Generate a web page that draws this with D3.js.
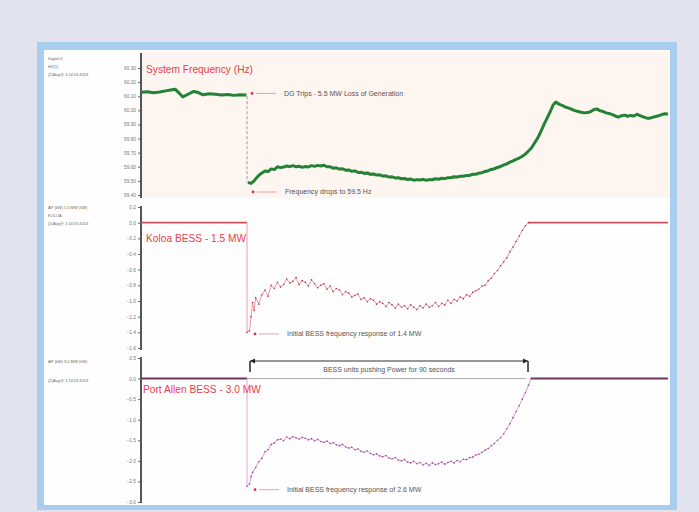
<!DOCTYPE html>
<html>
<head>
<meta charset="utf-8">
<script src="https://cdn.jsdelivr.net/npm/d3@7"></script>
<style>
  html, body { margin: 0; padding: 0; background: #e1e3ee; }
  svg { display: block; font-family: "Liberation Sans", Arial, sans-serif; }
</style>
</head>
<body>
<svg id="chart" width="699" height="512"></svg>
<script>
// ---- Data -------------------------------------------------------------
// Time in seconds from start of capture; generator trip at ~34 s.
const tripTime = 34.2;

// System frequency (Hz) before the trip
const freqPre = [
  [0, 60.128], [2, 60.132], [4, 60.124], [6, 60.130], [8, 60.138], [10, 60.146],
  [11, 60.150], [12.5, 60.118], [13.5, 60.095], [15, 60.112], [17, 60.134],
  [18.5, 60.126], [20, 60.110], [22, 60.118], [24, 60.114], [26, 60.108],
  [28, 60.112], [30, 60.106], [32, 60.110], [34, 60.108]
];
// System frequency (Hz) after the trip
const freqPost = [
  [34.5, 59.490], [35.5, 59.482], [36.5, 59.500], [37.5, 59.528], [38.5, 59.548],
  [40, 59.570], [41, 59.566], [42, 59.585], [43, 59.580], [44, 59.600], [45, 59.594],
  [46, 59.598], [47, 59.606], [48, 59.601], [49, 59.608], [50, 59.600], [51, 59.604],
  [52, 59.596], [53, 59.602], [54, 59.599], [55, 59.608], [56, 59.603], [57, 59.610],
  [58, 59.606], [59, 59.611], [60, 59.600], [61, 59.600], [62, 59.590], [63, 59.593],
  [64, 59.584], [65, 59.586], [66, 59.576], [67, 59.578], [68, 59.568], [69, 59.571],
  [70, 59.560], [71, 59.562], [72, 59.553], [73, 59.556], [74, 59.547], [75, 59.549],
  [76, 59.541], [77, 59.543], [78, 59.534], [79, 59.536], [80, 59.527], [81, 59.529],
  [82, 59.521], [83, 59.523], [84, 59.515], [85, 59.517], [86, 59.510], [87, 59.513],
  [88, 59.505], [89, 59.509], [90, 59.506], [91, 59.511], [92, 59.505], [93, 59.509],
  [94, 59.508], [95, 59.515], [96, 59.512], [97, 59.519], [98, 59.516], [99, 59.523],
  [100, 59.522], [101, 59.529], [102, 59.527], [103, 59.533], [104, 59.533],
  [105, 59.539], [106, 59.539], [107, 59.547], [108, 59.547], [109, 59.555],
  [110, 59.558], [111, 59.567], [112, 59.572], [113, 59.581], [114, 59.586],
  [115, 59.595], [116, 59.602], [117, 59.613], [118, 59.620], [119, 59.633],
  [120, 59.642], [121, 59.653], [122, 59.662], [123, 59.675], [124, 59.690],
  [125, 59.712], [126, 59.735], [127, 59.770], [128, 59.805], [129, 59.850],
  [130, 59.900], [131, 59.945], [132, 59.990], [133, 60.040], [133.8, 60.058],
  [135, 60.042], [136, 60.034], [137, 60.022], [138, 60.016], [139, 60.006],
  [140, 59.998], [141, 59.992], [142, 59.986], [143, 59.982], [144, 59.984],
  [145, 59.990], [146, 60.004], [147, 60.010], [148, 59.998], [149, 59.992],
  [150, 59.982], [151, 59.978], [152, 59.970], [153, 59.960], [154, 59.952],
  [155, 59.962], [156, 59.966], [157, 59.958], [158, 59.964], [159, 59.960],
  [160, 59.972], [161, 59.962], [162, 59.954], [163, 59.946], [164, 59.944],
  [165, 59.950], [166, 59.956], [167, 59.962], [168, 59.970], [169, 59.976], [170, 59.972]
];

// Koloa BESS output (MW)
const koloaPre = [[0, 0], [34.2, 0]];
const koloaPost = [
  [34.2, -1.40], [35, -1.38], [35.5, -1.20], [36, -1.02], [36.5, -1.12], [37, -0.96],
  [38, -1.04], [39, -0.92], [40, -0.86], [41, -0.94], [42, -0.80], [43, -0.84],
  [44, -0.76], [45, -0.82], [46, -0.79], [47, -0.72], [48, -0.77], [49, -0.75],
  [50, -0.70], [51, -0.79], [52, -0.74], [53, -0.76], [54, -0.81], [55, -0.73],
  [56, -0.78], [57, -0.83], [58, -0.80], [59, -0.78], [60, -0.85], [61, -0.81],
  [62, -0.88], [63, -0.84], [64, -0.86], [65, -0.92], [66, -0.88], [67, -0.90],
  [68, -0.95], [69, -0.93], [70, -0.91], [71, -0.98], [72, -0.96], [73, -1.01],
  [74, -0.97], [75, -0.99], [76, -1.04], [77, -1.01], [78, -1.03], [79, -1.07],
  [80, -1.02], [81, -1.05], [82, -1.09], [83, -1.04], [84, -1.08], [85, -1.06],
  [86, -1.10], [87, -1.05], [88, -1.08], [89, -1.11], [90, -1.06], [91, -1.09],
  [92, -1.04], [93, -1.08], [94, -1.06], [95, -1.02], [96, -1.07], [97, -1.03],
  [98, -1.05], [99, -0.99], [100, -1.03], [101, -0.98], [102, -1.00], [103, -0.95],
  [104, -0.97], [105, -0.92], [106, -0.94], [107, -0.89], [108, -0.87], [109, -0.85],
  [110, -0.81], [111, -0.80], [112, -0.74], [113, -0.71], [114, -0.65], [115, -0.61],
  [116, -0.55], [117, -0.50], [118, -0.45], [119, -0.37], [120, -0.31], [121, -0.24],
  [122, -0.17], [123, -0.10], [124, -0.04], [125, 0]
];
const koloaTail = [[125, 0], [170, 0]];

// Port Allen BESS output (MW)
const portAllenPre = [[0, 0], [34.2, 0]];
const portAllenPost = [
  [34.2, -2.62], [35, -2.56], [35.5, -2.38], [36, -2.28], [37, -2.16], [38, -2.02],
  [39, -1.94], [40, -1.78], [41, -1.73], [42, -1.60], [43, -1.57], [44, -1.49],
  [45, -1.47], [46, -1.51], [47, -1.42], [48, -1.46], [49, -1.41], [50, -1.44],
  [51, -1.47], [52, -1.43], [53, -1.45], [54, -1.49], [55, -1.46], [56, -1.51],
  [57, -1.48], [58, -1.53], [59, -1.55], [60, -1.52], [61, -1.58], [62, -1.56],
  [63, -1.61], [64, -1.63], [65, -1.60], [66, -1.66], [67, -1.69], [68, -1.67],
  [69, -1.73], [70, -1.71], [71, -1.77], [72, -1.79], [73, -1.76], [74, -1.82],
  [75, -1.85], [76, -1.83], [77, -1.88], [78, -1.90], [79, -1.87], [80, -1.93],
  [81, -1.95], [82, -1.92], [83, -1.98], [84, -2.00], [85, -1.97], [86, -2.03],
  [87, -2.05], [88, -2.01], [89, -2.07], [90, -2.04], [91, -2.10], [92, -2.06],
  [93, -2.11], [94, -2.05], [95, -2.09], [96, -2.07], [97, -2.03], [98, -2.08],
  [99, -2.04], [100, -2.01], [101, -2.05], [102, -1.99], [103, -2.02], [104, -1.96],
  [105, -1.97], [106, -1.92], [107, -1.91], [108, -1.86], [109, -1.84], [110, -1.79],
  [111, -1.74], [112, -1.70], [113, -1.63], [114, -1.58], [115, -1.50], [116, -1.44],
  [117, -1.34], [118, -1.22], [119, -1.10], [120, -0.95], [121, -0.80], [122, -0.66],
  [123, -0.50], [124, -0.34], [125, -0.16], [125.8, 0]
];
const portAllenTail = [[125.8, 0], [170, 0]];

// Axis ticks
const freqTicks = [60.3, 60.2, 60.1, 60.0, 59.9, 59.8, 59.7, 59.6, 59.5, 59.4];
const koloaTicks = [0.2, 0.0, -0.2, -0.4, -0.6, -0.8, -1.0, -1.2, -1.4, -1.6];
const portAllenTicks = [0.5, 0.0, -0.5, -1.0, -1.5, -2.0, -2.5, -3.0];

// Panel titles and notes
const panelTitles = ["System Frequency (Hz)", "Koloa BESS - 1.5 MW", "Port Allen BESS - 3.0 MW"];
const headerLines = [
  ["Digital 6", "HZ(1)", "(2)Avg@ 1:14:53.4553"],
  ["AP (kW) 1.5 MW (kW)", "KOLOA", "(2)Avg@ 1:14:53.4553"],
  ["AP (kW) 3.0 MW (kW)", "(2)Avg@ 1:14:53.4553"]
];
const notes = {
  trip: "DG Trips - 5.5 MW Loss of Generation",
  freqLow: "Frequency drops to 59.5 Hz",
  koloa: "Initial BESS frequency response of 1.4 MW",
  portAllen: "Initial BESS frequency response of 2.6 MW",
  span: "BESS units pushing Power for 90 seconds"
};
const pushStart = 34.2, pushEnd = 124.2;

// ---- Drawing ----------------------------------------------------------
const svg = d3.select("#chart");

// Window frame
svg.append("rect").attr("x", 37).attr("y", 42).attr("width", 640).attr("height", 468)
  .attr("fill", "#a9cdee");
svg.append("rect").attr("x", 44).attr("y", 50).attr("width", 626).attr("height", 455)
  .attr("fill", "#fefefe");
svg.append("rect").attr("x", 142).attr("y", 51).attr("width", 528).attr("height", 147)
  .attr("fill", "#fdf5f0");

const x = d3.scaleLinear().domain([0, 170]).range([141, 668]);
const yF = d3.scaleLinear().domain([59.4, 60.3]).range([195, 68]);
const yK = d3.scaleLinear().domain([-1.6, 0.2]).range([348, 207]);
const yP = d3.scaleLinear().domain([-3.0, 0.5]).range([502, 358]);

function drawAxis(scale, ticks, fmt, y0, y1) {
  const g = svg.append("g").attr("transform", "translate(141,0)");
  g.call(d3.axisLeft(scale).tickValues(ticks).tickFormat(d3.format(fmt))
    .tickSize(3).tickSizeOuter(0).tickPadding(2));
  g.select(".domain").remove();
  g.selectAll(".tick line").attr("stroke", "#666").attr("stroke-width", 1);
  g.selectAll(".tick text").attr("fill", "#777").attr("font-size", 4.8)
    .attr("font-family", "Liberation Sans, Arial, sans-serif");
  svg.append("line").attr("x1", 141).attr("x2", 141).attr("y1", y0).attr("y2", y1)
    .attr("stroke", "#555").attr("stroke-width", 2);
}
drawAxis(yF, freqTicks, ".2f", 53, 198);
drawAxis(yK, koloaTicks, ".1f", 206, 350);
drawAxis(yP, portAllenTicks, ".1f", 357, 503);

// Small header notes to the left of each axis
const headerY = [60, 209, 363];
headerLines.forEach((lines, i) => {
  lines.forEach((t, j) => {
    svg.append("text").attr("x", 48).attr("y", headerY[i] + j * (i === 2 ? 19 : 8))
      .attr("font-size", 4).attr("fill", "#666").text(t);
  });
});

const line = (ys) => d3.line().x(d => x(d[0])).y(d => ys(d[1]));

// Panel 1: frequency
svg.append("line").attr("x1", x(tripTime)).attr("x2", x(tripTime))
  .attr("y1", yF(60.10)).attr("y2", yF(59.49))
  .attr("stroke", "#999").attr("stroke-width", 1).attr("stroke-dasharray", "3,2");
[freqPre, freqPost].forEach(seg => {
  svg.append("path").datum(seg).attr("d", line(yF))
    .attr("fill", "none").attr("stroke", "#238236").attr("stroke-width", 3)
    .attr("stroke-linejoin", "round");
});

// Panel 2: Koloa BESS
[koloaPre, koloaTail].forEach(seg => {
  svg.append("path").datum(seg).attr("d", line(yK))
    .attr("fill", "none").attr("stroke", "#c9505c").attr("stroke-width", 1.6);
});
svg.append("line").attr("x1", x(tripTime)).attr("x2", x(tripTime))
  .attr("y1", yK(0)).attr("y2", yK(-1.40)).attr("stroke", "#e8a0a8").attr("stroke-width", 1);
svg.append("path").datum(koloaPost).attr("d", line(yK))
  .attr("fill", "none").attr("stroke", "#dc8088").attr("stroke-width", 0.8);
svg.append("g").selectAll("circle").data(koloaPost).join("circle")
  .attr("cx", d => x(d[0])).attr("cy", d => yK(d[1])).attr("r", 0.8).attr("fill", "#b83040");

// Panel 3: Port Allen BESS
svg.append("line").attr("x1", x(pushStart)).attr("x2", x(pushEnd))
  .attr("y1", yP(0)).attr("y2", yP(0)).attr("stroke", "#aaa").attr("stroke-width", 1);
[portAllenPre, portAllenTail].forEach(seg => {
  svg.append("path").datum(seg).attr("d", line(yP))
    .attr("fill", "none").attr("stroke", "#6e3462").attr("stroke-width", 2);
});
svg.append("line").attr("x1", x(tripTime)).attr("x2", x(tripTime))
  .attr("y1", yP(0)).attr("y2", yP(-2.62)).attr("stroke", "#e0a8d8").attr("stroke-width", 1);
svg.append("path").datum(portAllenPost).attr("d", line(yP))
  .attr("fill", "none").attr("stroke", "#cc80c4").attr("stroke-width", 0.8);
svg.append("g").selectAll("circle").data(portAllenPost).join("circle")
  .attr("cx", d => x(d[0])).attr("cy", d => yP(d[1])).attr("r", 0.8).attr("fill", "#a04090");

// Panel titles
const titlePos = [[146, 73], [146, 242], [143, 393]];
panelTitles.forEach((t, i) => {
  svg.append("text").attr("x", titlePos[i][0]).attr("y", titlePos[i][1])
    .attr("font-size", 10.2).attr("fill", "#e8404c").text(t);
});

// Callouts: red marker, short leader and note text
function callout(mx, my, text) {
  svg.append("circle").attr("cx", mx).attr("cy", my).attr("r", 1.4).attr("fill", "#e03040");
  svg.append("line").attr("x1", mx + 4).attr("x2", mx + 24).attr("y1", my).attr("y2", my)
    .attr("stroke", "#f0a0a8").attr("stroke-width", 1);
  svg.append("text").attr("x", mx + 32).attr("y", my + 2.3)
    .attr("font-size", 7).attr("fill", "#555").text(text);
}
callout(x(tripTime) + 5, yF(60.12), notes.trip);
callout(x(tripTime) + 6, 192, notes.freqLow);
callout(x(tripTime) + 8, yK(-1.42), notes.koloa);
callout(x(tripTime) + 8, yP(-2.70), notes.portAllen);

// Bracket showing the 90 s BESS push
const bx0 = x(pushStart) + 3, bx1 = x(pushEnd) + 2, by = 361;
svg.append("line").attr("x1", bx0).attr("x2", bx1).attr("y1", by).attr("y2", by)
  .attr("stroke", "#333").attr("stroke-width", 1.2);
svg.append("path").attr("d", `M${bx0},${by + 11} V${by}`).attr("stroke", "#333")
  .attr("stroke-width", 1.6).attr("fill", "none");
svg.append("path").attr("d", `M${bx1},${by + 11} V${by}`).attr("stroke", "#333")
  .attr("stroke-width", 1.6).attr("fill", "none");
svg.append("path").attr("d", `M${bx0},${by} l5,-2.5 v5 z`).attr("fill", "#222");
svg.append("path").attr("d", `M${bx1},${by} l-5,-2.5 v5 z`).attr("fill", "#222");
svg.append("text").attr("x", (bx0 + bx1) / 2).attr("y", 372).attr("text-anchor", "middle")
  .attr("font-size", 7).attr("fill", "#555").text(notes.span);
</script>
</body>
</html>
